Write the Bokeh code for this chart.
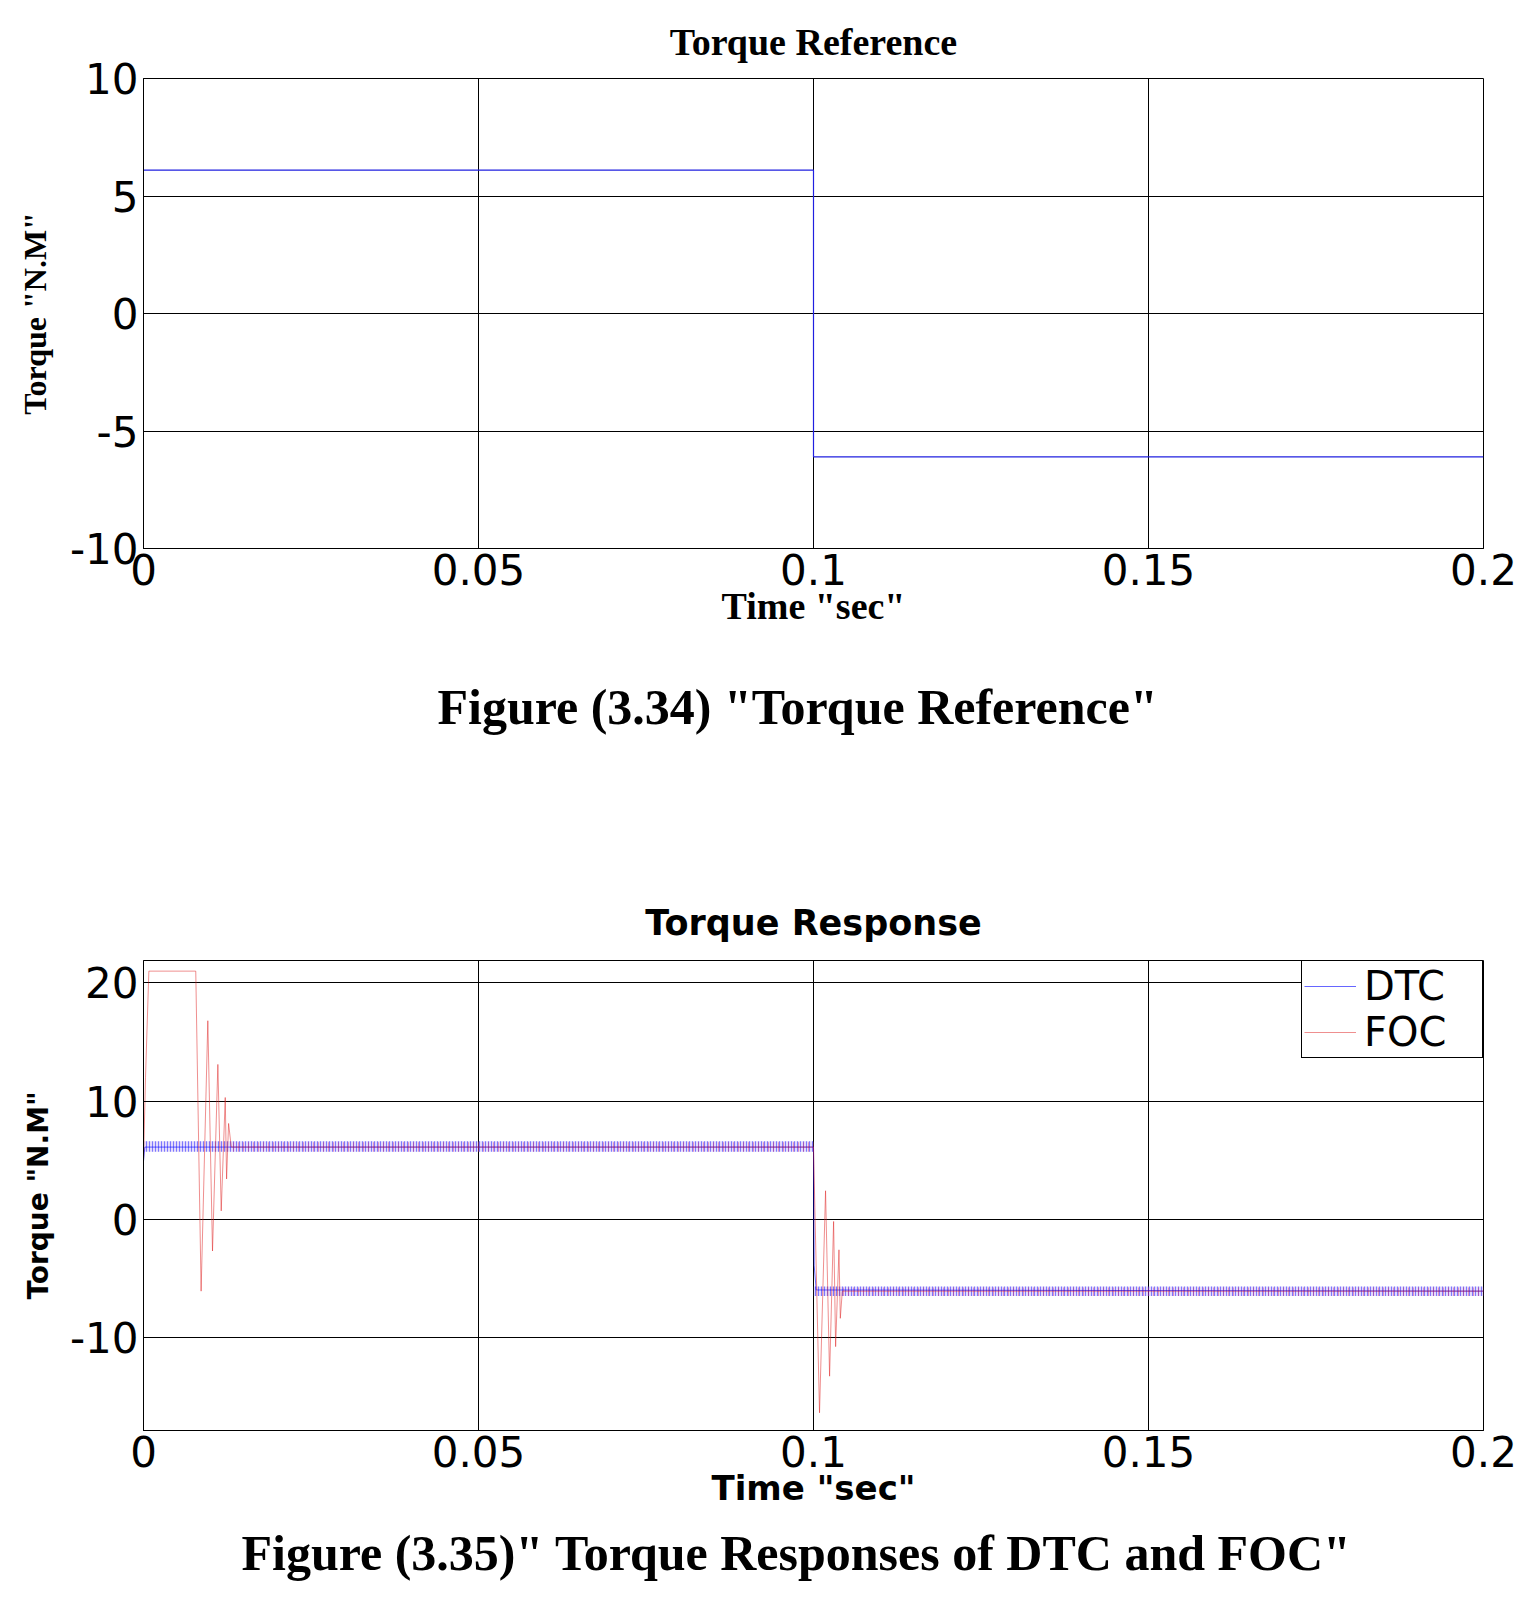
from bokeh.embed import file_html
from bokeh.layouts import column
from bokeh.models import FixedTicker, Legend, LegendItem, Title
from bokeh.plotting import figure
from bokeh.resources import INLINE

PAGE_WIDTH = 1530
SERIF = "Liberation Serif"
SANS = "DejaVu Sans"

# axis ticks of both scopes
TIME_TICKS = [0, 0.05, 0.1, 0.15, 0.2]
TIME_TICK_LABELS = ["0", "0.05", "0.1", "0.15", "0.2"]
REF_Y_TICKS = [-10, -5, 0, 5, 10]
RESP_Y_TICKS = [-10, 0, 10, 20]

# torque reference step (N.m)
REF_TIME = [0.0, 0.1, 0.1, 0.2]
REF_TORQUE = [6.1, 6.1, -6.1, -6.1]

# DTC response, mean torque and the hysteresis ripple band
DTC_TIME = [0.0, 0.0002, 0.1, 0.1001, 0.1004, 0.2]
DTC_TORQUE = [4.9, 6.1, 6.1, -3.9, -6.0, -6.1]
DTC_BAND_START = [0.0, 0.1]
DTC_BAND_END = [0.1, 0.2]
DTC_BAND_LOW = [5.7, -6.5]
DTC_BAND_HIGH = [6.6, -5.7]

# FOC response, start-up and load reversal transients
FOC_TIME = [0.0, 0.0003, 0.0008, 0.0078, 0.0086, 0.0096, 0.0103, 0.0111,
            0.0116, 0.0122, 0.0124, 0.0127, 0.0131, 0.1, 0.1002, 0.1009,
            0.1018, 0.1024, 0.1030, 0.1033, 0.1038, 0.1040, 0.1043, 0.2]
FOC_TORQUE = [4.9, 12.0, 21.0, 21.0, -6.1, 16.8, -2.7, 13.1,
              0.7, 10.3, 3.4, 8.1, 6.1, 6.1, 1.0, -16.4,
              2.4, -13.3, -0.2, -10.8, -2.6, -8.4, -6.1, -6.1]
FOC_BAND_START = [0.0131, 0.1043]
FOC_BAND_END = [0.1, 0.2]
FOC_BAND_LOW = [5.7, -6.5]
FOC_BAND_HIGH = [6.5, -5.8]


def make_scope(title, font, title_size, label_size, ylabel_size, y_range, y_ticks, height,
               border_top, border_bottom, title_standoff, xlabel_standoff, ylabel_standoff):
    p = figure(width=PAGE_WIDTH, height=height, x_range=(0, 0.2), y_range=y_range,
               output_backend="svg", toolbar_location=None,
               min_border_left=143, min_border_right=PAGE_WIDTH - 1483,
               min_border_top=border_top, min_border_bottom=border_bottom)
    p.title.text = title
    p.title.align = "center"
    p.title.text_font = font
    p.title.text_font_size = title_size
    p.title.text_font_style = "bold"
    p.title.text_color = "black"
    p.title.standoff = title_standoff
    p.outline_line_color = "black"
    p.outline_line_alpha = 1

    p.xaxis.ticker = FixedTicker(ticks=TIME_TICKS)
    p.xaxis.major_label_overrides = dict(zip(TIME_TICKS, TIME_TICK_LABELS))
    p.yaxis.ticker = FixedTicker(ticks=y_ticks)
    p.yaxis.major_label_overrides = {t: str(t) for t in y_ticks}
    p.xaxis.axis_label = 'Time "sec"'
    p.yaxis.axis_label = 'Torque "N.M"'
    for ax in (p.xaxis[0], p.yaxis[0]):
        ax.axis_line_color = "black"
        ax.major_tick_in = 5
        ax.major_tick_out = 0
        ax.major_tick_line_color = "black"
        ax.minor_tick_line_color = None
        ax.major_label_text_font = SANS
        ax.major_label_text_font_size = "42px"
        ax.major_label_text_color = "black"
        ax.major_label_standoff = 5
        ax.axis_label_text_font = font
        ax.axis_label_text_font_style = "bold"
        ax.axis_label_text_color = "black"
    p.xaxis.axis_label_text_font_size = label_size
    p.yaxis.axis_label_text_font_size = ylabel_size
    p.xaxis.axis_label_standoff = xlabel_standoff
    p.yaxis.axis_label_standoff = ylabel_standoff
    p.xgrid.grid_line_color = "black"
    p.ygrid.grid_line_color = "black"
    p.xgrid.grid_line_alpha = 1
    p.ygrid.grid_line_alpha = 1
    return p


def add_caption(p, text, standoff, indent):
    # left aligned so the caption can sit a little left of the frame centre
    p.add_layout(Title(text=text, align="left", text_font=SERIF,
                       text_font_size="50px", text_font_style="bold",
                       text_color="black", standoff=standoff, offset=indent), "below")


def main():
    p1 = make_scope("Torque Reference", SERIF, "38px", "38px", "32px", (-10, 10),
                    REF_Y_TICKS, 790, 78, 242, 31, -3, 14)
    p1.line(REF_TIME, REF_TORQUE, color="#2020e0", line_width=1.2)
    add_caption(p1, 'Figure (3.34) "Torque Reference"', 95, 294)

    p2 = make_scope("Torque Response", SANS, "35px", "34px", "28px", (-17.9, 21.9),
                    RESP_Y_TICKS, 810, 170, 170, 35, -2, 12)
    p2.quad(left=DTC_BAND_START, right=DTC_BAND_END, bottom=DTC_BAND_LOW, top=DTC_BAND_HIGH,
            fill_color="#9070f0", fill_alpha=0.25, line_color=None,
            hatch_pattern="|", hatch_color="blue", hatch_alpha=0.45, hatch_scale=3,
            hatch_weight=1)
    p2.quad(left=FOC_BAND_START, right=FOC_BAND_END, bottom=FOC_BAND_LOW, top=FOC_BAND_HIGH,
            fill_color=None, line_color=None,
            hatch_pattern="|", hatch_color="#e02060", hatch_alpha=0.4, hatch_scale=5,
            hatch_weight=1)
    dtc = p2.line(DTC_TIME, DTC_TORQUE, color="blue", line_width=1, alpha=0.6)
    foc = p2.line(FOC_TIME, FOC_TORQUE, color="#e02020", line_width=1, alpha=0.5)

    legend = Legend(items=[LegendItem(label="DTC", renderers=[dtc]),
                           LegendItem(label="FOC", renderers=[foc])],
                    location="top_right", margin=0, padding=2, spacing=0,
                    glyph_width=52, glyph_height=44, label_height=44, label_width=116,
                    label_standoff=8, label_text_font=SANS, label_text_font_size="40px",
                    label_text_color="black",
                    border_line_color="black", border_line_alpha=1,
                    background_fill_alpha=1)
    p2.add_layout(legend)
    add_caption(p2, 'Figure (3.35)" Torque Responses of DTC and FOC"', 24, 98)

    layout = column(p1, p2, spacing=0)
    open("out.html", "w").write(file_html(layout, INLINE))


if __name__ == "__main__":
    main()
